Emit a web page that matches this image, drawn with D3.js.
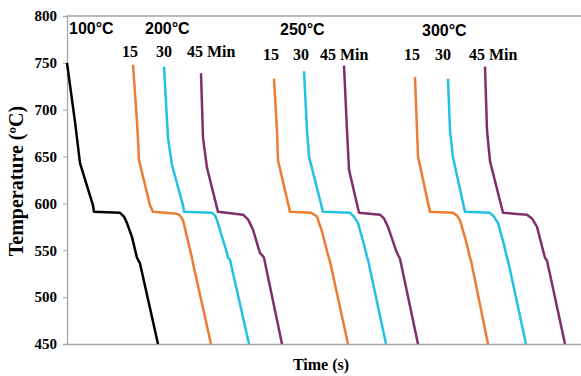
<!DOCTYPE html>
<html><head><meta charset="utf-8">
<script src="https://cdn.jsdelivr.net/npm/d3@7"></script>
<style>body{margin:0;background:#fff;}svg{display:block;}</style>
</head><body>
<script>
// Temperature ticks
const yTicks = [450, 500, 550, 600, 650, 700, 750, 800];
// Series: [time, temperature] (time in arbitrary seconds, no tick labels on axis)
const s100 = [[0,750],[8,687],[13,643],[26,598],[27,591],[53,590],[57,586],[60,579],[65,564],[70,542],[73,536],[91,450]];
const s200_15 = [[66,748],[70,687],[72,646],[83,598],[86,591],[110,589],[113,587],[116,582],[125,542],[126,536],[144,450]];
const s200_30 = [[97,746],[101,670],[105,641],[116,598],[117,591],[145,590],[148,587],[150,582],[160,547],[161,542],[163,540],[182,450]];
const s200_45 = [[134,739],[136,670],[140,638],[151,591],[176,588],[181,583],[186,572],[193,547],[195,545],[197,542],[215,450]];
const s250_15 = [[207,733],[210,678],[211,646],[223,591],[244,590],[247,588],[250,586],[255,570],[261,545],[263,538],[281,450]];
const s250_30 = [[237,741],[240,678],[242,650],[256,591],[283,590],[287,586],[291,579],[297,556],[300,543],[301,540],[319,450]];
const s250_45 = [[277,747],[280,678],[282,636],[292,590],[313,588],[317,584],[321,575],[329,550],[331,545],[333,541],[351,450]];
const s300_15 = [[348,735],[350,678],[351,650],[363,591],[386,590],[390,587],[393,582],[400,556],[403,542],[404,539],[421,450]];
const s300_30 = [[381,733],[383,678],[386,649],[398,591],[423,590],[427,586],[431,579],[437,556],[440,542],[441,539],[459,450]];
const s300_45 = [[418,746],[420,678],[423,645],[436,590],[460,588],[465,584],[470,575],[476,550],[478,542],[480,539],[498,450]];

const seriesList = [
  {d:s100, c:"#000000"},
  {d:s200_15, c:"#ED7D31"},{d:s200_30, c:"#22C2E3"},{d:s200_45, c:"#7F2F6A"},
  {d:s250_15, c:"#ED7D31"},{d:s250_30, c:"#22C2E3"},{d:s250_45, c:"#7F2F6A"},
  {d:s300_15, c:"#ED7D31"},{d:s300_30, c:"#22C2E3"},{d:s300_45, c:"#7F2F6A"}
];
const groupLabels = ["100°C","200°C","250°C","300°C"];
const groupLabelTime = [2, 78, 213, 355];
const minuteLabels = ["15","30","45 Min","15","30","45 Min","15","30","45 Min"];
const minuteLabelTime = [55, 89, 120, 196, 226, 253, 337, 368, 402];

const W = 581, H = 376;
const m = {left:67, right:0, top:16, bottom:32};
const svg = d3.select("body").append("svg").attr("width", W).attr("height", H);
const x = d3.scaleLinear().domain([0, 514]).range([m.left, W - m.right]);
const y = d3.scaleLinear().domain([450, 800]).range([H - m.bottom, m.top]);
const axisGray = "#A6A6A6";

// top border
svg.append("line").attr("x1", x(0)).attr("x2", x(514)).attr("y1", y(800)).attr("y2", y(800))
  .attr("stroke", axisGray).attr("stroke-width", 1.3);

// y axis
const ya = svg.append("g").attr("transform", `translate(${x(0)},0)`)
  .call(d3.axisLeft(y).tickValues(yTicks).tickSize(4).tickPadding(6));
ya.select(".domain").attr("stroke", axisGray).attr("stroke-width", 1.3);
ya.selectAll(".tick line").attr("stroke", axisGray);
ya.selectAll("text").attr("font-family", "'Liberation Serif', serif").attr("font-weight", "bold")
  .attr("font-size", 15).attr("fill", "#000");

// x axis (no ticks)
const xa = svg.append("g").attr("transform", `translate(0,${y(450)})`)
  .call(d3.axisBottom(x).tickValues([]).tickSizeOuter(0));
xa.select(".domain").attr("stroke", axisGray).attr("stroke-width", 1.3);

// lines
const line = d3.line().x(d => x(d[0])).y(d => y(d[1]));
svg.append("g").selectAll("path").data(seriesList).join("path")
  .attr("d", s => line(s.d)).attr("fill", "none").attr("stroke", s => s.c)
  .attr("stroke-width", 2.5).attr("stroke-linejoin", "round").attr("stroke-linecap", "butt");

// group labels
svg.append("g").selectAll("text").data(groupLabels).join("text")
  .attr("x", (d,i) => x(groupLabelTime[i])).attr("y", (d,i) => [34,34,35,36][i])
  .attr("font-family", "'Liberation Sans', Arial, sans-serif").attr("font-weight", "bold")
  .attr("font-size", 16).attr("fill", "#000").text(d => d);

// minute labels
svg.append("g").selectAll("text").data(minuteLabels).join("text")
  .attr("x", (d,i) => x(minuteLabelTime[i])).attr("y", (d,i) => i < 3 ? 57 : 60)
  .attr("font-family", "'Liberation Serif', serif").attr("font-weight", "bold")
  .attr("font-size", 16).attr("fill", "#000").text(d => d);

// axis titles
svg.append("text").attr("x", 321).attr("y", 370).attr("text-anchor", "middle")
  .attr("font-family", "'Liberation Serif', serif").attr("font-weight", "bold")
  .attr("font-size", 16).text("Time (s)");
svg.append("text").attr("transform", "translate(23,181) rotate(-90)").attr("text-anchor", "middle")
  .attr("font-family", "'Liberation Serif', serif").attr("font-weight", "bold")
  .attr("font-size", 20).text("Temperature (ºC)");
</script>
</body></html>
